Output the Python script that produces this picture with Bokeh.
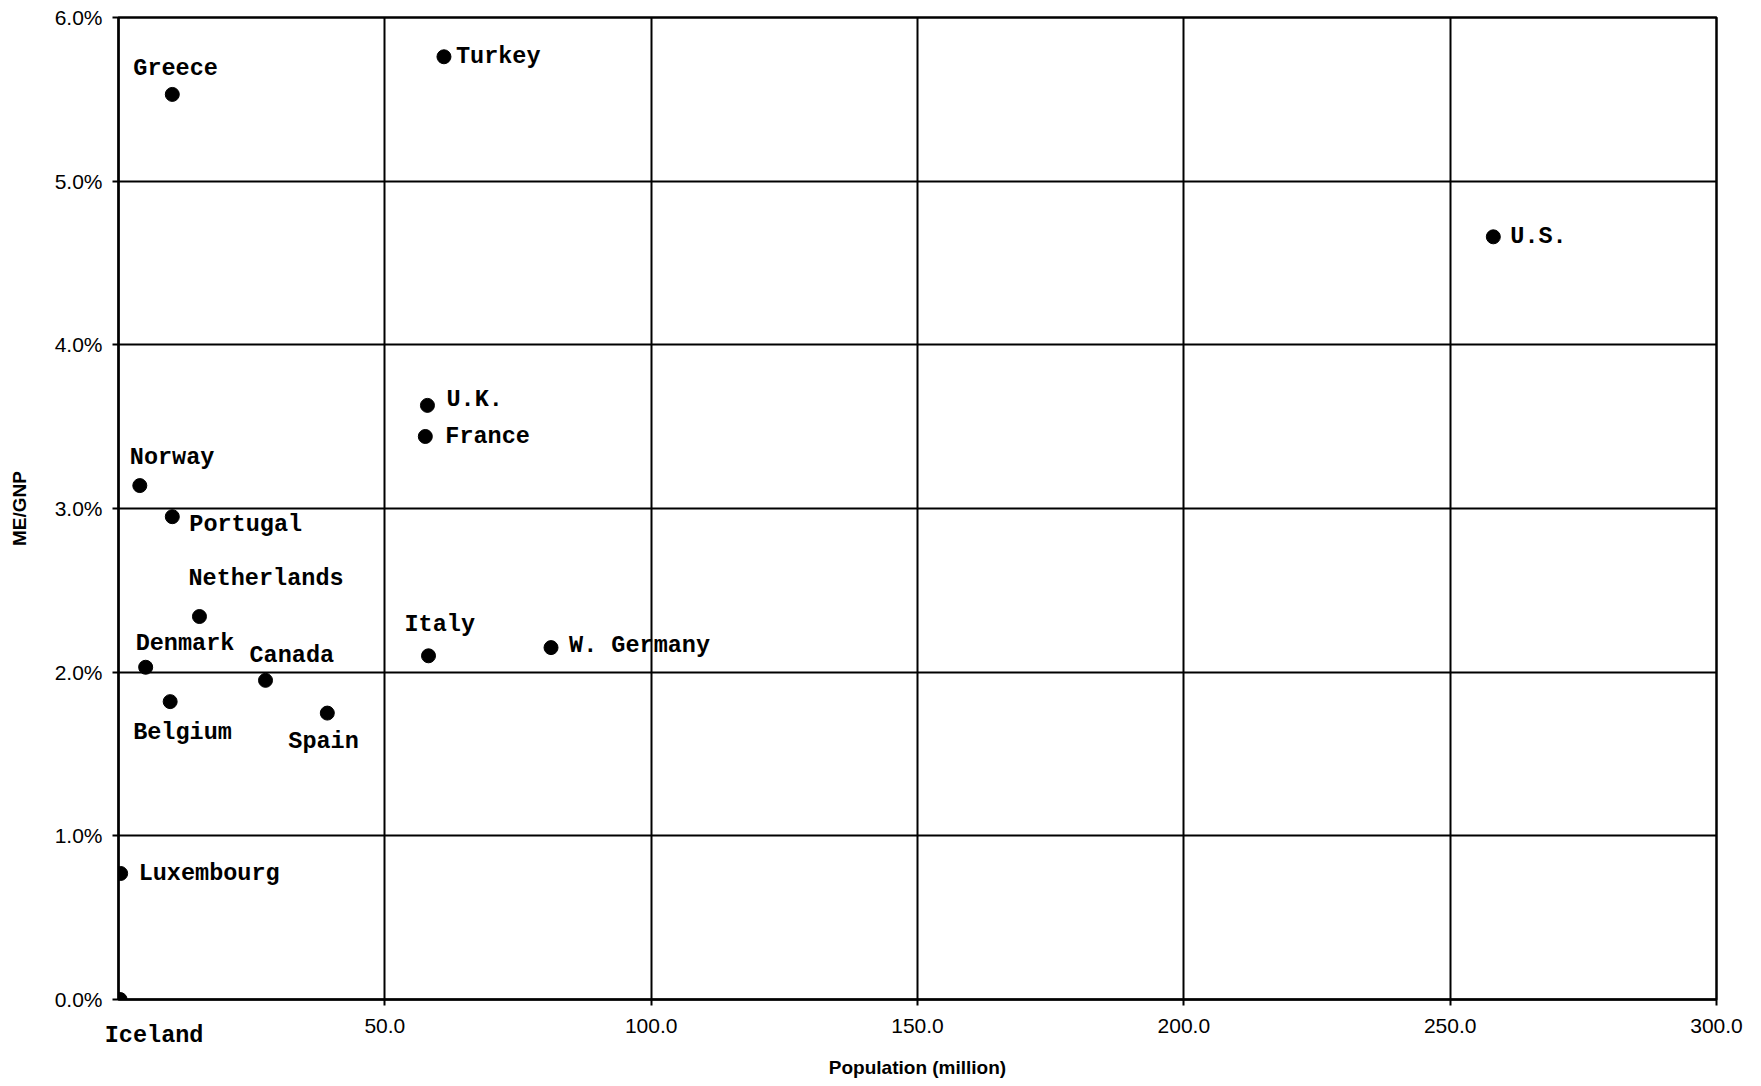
from bokeh.plotting import figure
from bokeh.models import (Range1d, FixedTicker, PrintfTickFormatter, ColumnDataSource,
                          Label, LinearAxis)
from bokeh.embed import file_html
from bokeh.resources import INLINE

# ---- data ----
countries = ["Greece", "Turkey", "U.S.", "U.K.", "France", "Norway", "Portugal",
             "Netherlands", "Denmark", "Canada", "Belgium", "Spain", "Italy",
             "W. Germany", "Luxembourg", "Iceland"]
population = [10.1, 61.1, 258.1, 58.0, 57.6, 4.0, 10.1, 15.2, 5.1, 27.6, 9.7,
              39.2, 58.2, 81.2, 0.4, 0.3]
me_gnp = [5.53, 5.76, 4.66, 3.63, 3.44, 3.14, 2.95, 2.34, 2.03, 1.95, 1.82,
          1.75, 2.10, 2.15, 0.77, 0.0]
x_ticks = [50, 100, 150, 200, 250, 300]
y_ticks = [0, 1, 2, 3, 4, 5, 6]

# ---- label placement (pixel offsets, styling only; positive dy = up) ----
label_dx = [-39, 12, 17, 19, 20, -10, 17, -11, -10, -16, -37, -39, -24, 18, 18, -16]
label_dy = [26, 0, 0, 6, 0, 28, -8, 38, 24, 25, -31, -28, 31, 2, 0, -35]
ICELAND_SHIFT_PX = 34      # horizontal shift of the Iceland name (styling)
FRAME_W_PX = 1598

src = ColumnDataSource(dict(x=population, y=me_gnp, name=countries))

x0, x1 = 0, 300
p = figure(width=1745, height=1080, output_backend="svg", toolbar_location=None,
           x_range=Range1d(x0, x1), y_range=Range1d(0, 6),
           min_border_left=118, min_border_right=29, min_border_top=17,
           min_border_bottom=79)

p.outline_line_color = "black"
p.outline_line_width = 2.5

for ax in (p.xaxis[0], p.yaxis[0]):
    ax.axis_line_color = "black"
    ax.axis_line_width = 2
    ax.major_tick_line_color = "black"
    ax.major_tick_line_width = 2
    ax.major_tick_out = 6
    ax.major_tick_in = 0
    ax.minor_tick_line_color = None
    ax.major_label_text_font = "Liberation Sans"
    ax.major_label_text_font_size = "21px"
    ax.major_label_text_color = "black"
    ax.axis_label_text_font = "Liberation Sans"
    ax.axis_label_text_font_size = "19px"
    ax.axis_label_text_font_style = "bold"
    ax.axis_label_text_color = "black"

p.xaxis.ticker = FixedTicker(ticks=x_ticks)
p.yaxis.ticker = FixedTicker(ticks=y_ticks)
p.xaxis.formatter = PrintfTickFormatter(format="%.1f")
p.yaxis.formatter = PrintfTickFormatter(format="%.1f%%")
p.yaxis.axis_label = "ME/GNP"
p.xaxis.major_label_standoff = 13
p.yaxis.major_label_standoff = 10
p.yaxis.axis_label_standoff = 22

p.xgrid.ticker = FixedTicker(ticks=x_ticks)
p.ygrid.ticker = FixedTicker(ticks=y_ticks)
p.grid.grid_line_color = "black"
p.grid.grid_line_width = 2
p.grid.grid_line_alpha = 1.0

p.scatter("x", "y", source=src, size=14, color="black")

# labels inside the frame
for name, xv, yv, dx, dy in zip(countries, population, me_gnp, label_dx, label_dy):
    if name == "Iceland":
        continue
    p.add_layout(Label(x=xv, y=yv, text=name, x_offset=dx, y_offset=dy,
                       text_font="Liberation Mono", text_font_size="23.5px",
                       text_font_style="bold", text_align="left",
                       text_baseline="middle", text_color="black"))

# Iceland sits on the x axis: its name goes in the axis area, carried by a second axis
shift = ICELAND_SHIFT_PX / FRAME_W_PX * (x1 - x0)
p.extra_x_ranges = {"ice": Range1d(x0 - shift, x1 - shift)}
ice_x = population[countries.index("Iceland")]
ax2 = LinearAxis(x_range_name="ice", ticker=FixedTicker(ticks=[ice_x]),
                 major_label_overrides={ice_x: "Iceland"},
                 axis_line_color=None, major_tick_line_color=None,
                 minor_tick_line_color=None, major_tick_out=0, major_tick_in=0,
                 major_label_standoff=-14,
                 major_label_text_font="Liberation Mono",
                 major_label_text_font_size="23.5px",
                 major_label_text_font_style="bold",
                 major_label_text_color="black",
                 axis_label="Population (million)",
                 axis_label_text_font="Liberation Sans",
                 axis_label_text_font_size="19px",
                 axis_label_text_font_style="bold",
                 axis_label_text_color="black",
                 axis_label_standoff=5)
p.add_layout(ax2, "below")

open("out.html", "w").write(file_html(p, INLINE))
